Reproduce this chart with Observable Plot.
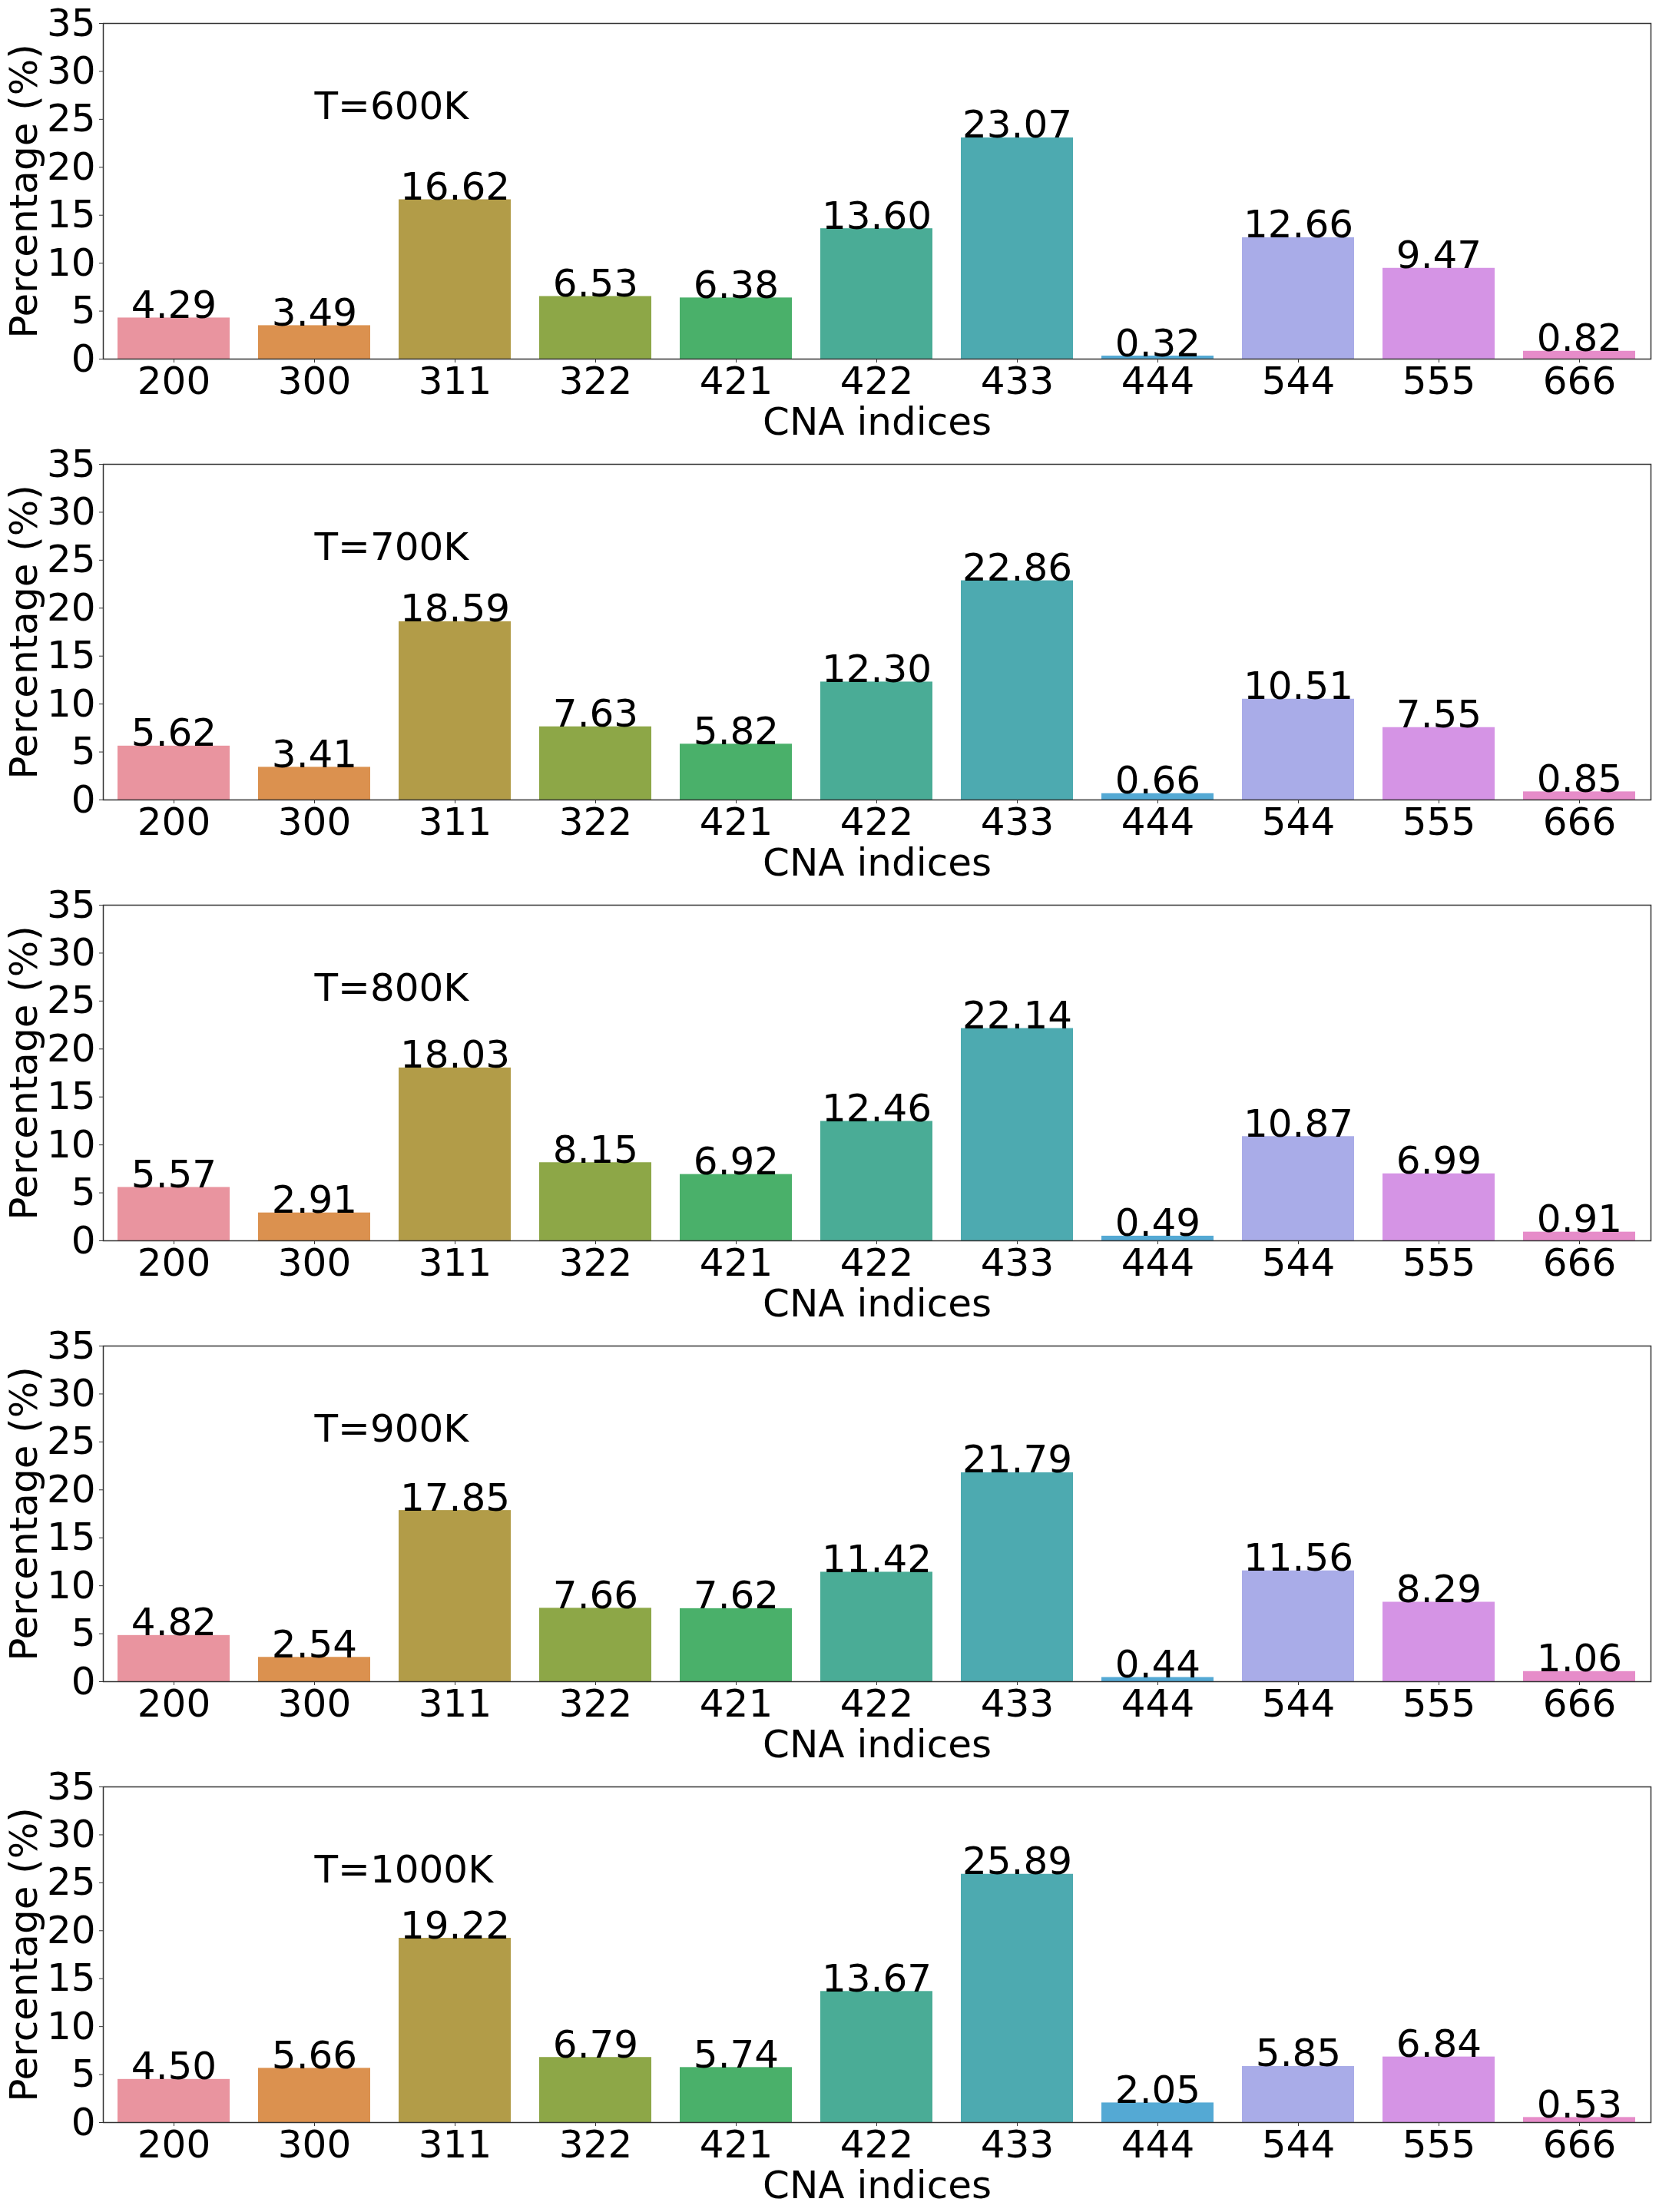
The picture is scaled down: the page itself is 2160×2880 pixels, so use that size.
<!DOCTYPE html>
<html><head><meta charset="utf-8">
<script src="https://cdn.jsdelivr.net/npm/d3@7"></script>
<script src="https://cdn.jsdelivr.net/npm/@observablehq/plot@0.6"></script>
<style>body{margin:0;background:#fff;} svg{display:block;}</style>
</head><body><div id="chart"></div>
<script>
const categories = ["200","300","311","322","421","422","433","444","544","555","666"];
const temperatures = ["T=600K","T=700K","T=800K","T=900K","T=1000K"];
const values600  = [4.29, 3.49, 16.62, 6.53, 6.38, 13.60, 23.07, 0.32, 12.66, 9.47, 0.82];
const values700  = [5.62, 3.41, 18.59, 7.63, 5.82, 12.30, 22.86, 0.66, 10.51, 7.55, 0.85];
const values800  = [5.57, 2.91, 18.03, 8.15, 6.92, 12.46, 22.14, 0.49, 10.87, 6.99, 0.91];
const values900  = [4.82, 2.54, 17.85, 7.66, 7.62, 11.42, 21.79, 0.44, 11.56, 8.29, 1.06];
const values1000 = [4.50, 5.66, 19.22, 6.79, 5.74, 13.67, 25.89, 2.05, 5.85, 6.84, 0.53];
const barColors = ["#e9949f","#db914f","#b29c48","#8da747","#4ab06a","#4aac96","#4daab0","#54a9d4","#a9ace8","#d594e5","#e68cc9"];
const yTicks = [0,5,10,15,20,25,30,35];
const xLabel = "CNA indices";
const yLabel = "Percentage (%)";

const series = [values600, values700, values800, values900, values1000];
const FS = 50;
const container = document.getElementById("chart");

series.forEach((vals, i) => {
  const rows = categories.map((c, j) => ({cna: c, pct: vals[j]}));
  const svg = Plot.plot({
    width: 2160, height: 574,
    marginLeft: 134, marginRight: 11, marginTop: 30, marginBottom: 107,
    style: {fontFamily: "DejaVu Sans", fontSize: FS + "px", background: "white", color: "black", overflow: "visible"},
    x: {type: "band", domain: categories, paddingInner: 0.2, paddingOuter: 0.1},
    y: {domain: [0, 35]},
    color: {domain: categories, range: barColors},
    marks: [
      Plot.barY(rows, {x: "cna", y: "pct", fill: "cna"}),
      Plot.text(rows, {x: "cna", y: "pct", text: d => d.pct.toFixed(2), lineAnchor: "bottom", fontSize: FS, fill: "black"}),
      Plot.text([temperatures[i]], {x: () => "300", y: () => 25, text: d => d, textAnchor: "start", lineAnchor: "bottom", fontSize: FS, fill: "black"}),
      Plot.frame({stroke: "#333", strokeWidth: 1.5}),
      Plot.axisX({tickSize: 5, tickPadding: 4.5, fontSize: FS, label: null, stroke: "#333", fill: "black"}),
      Plot.axisY({ticks: yTicks, tickSize: 5, tickPadding: 5, fontSize: FS, label: null, tickFormat: d => String(d), stroke: "#333", fill: "black"}),
      Plot.text([xLabel], {frameAnchor: "bottom", dy: 98, lineAnchor: "bottom", text: d => d, fontSize: FS, fill: "black"}),
      Plot.text([yLabel], {frameAnchor: "left", dx: -87, rotate: -90, textAnchor: "middle", lineAnchor: "bottom", text: d => d, fontSize: FS, fill: "black"})
    ]
  });
  container.appendChild(svg);
});
</script>
</body></html>
